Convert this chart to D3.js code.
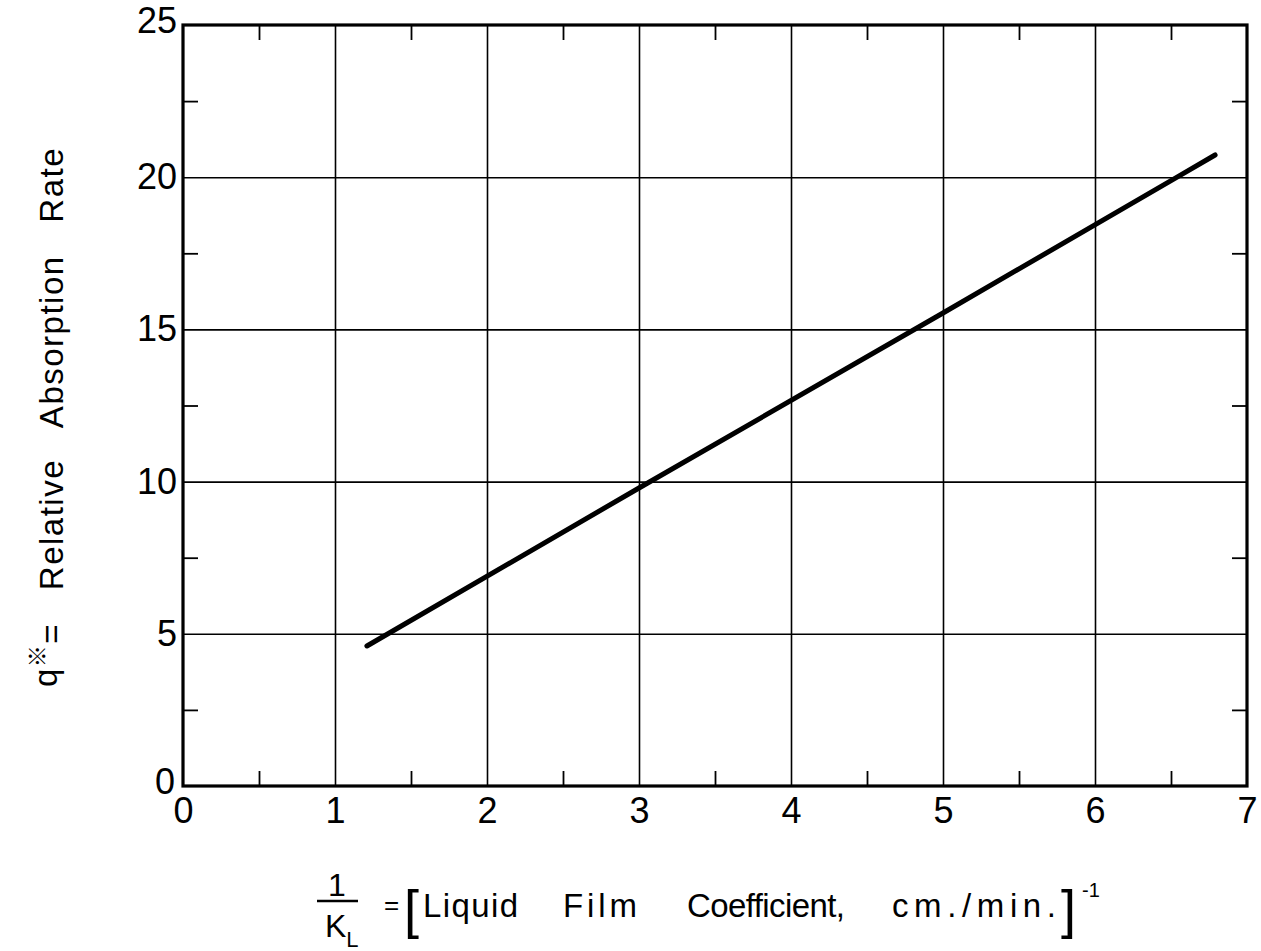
<!DOCTYPE html>
<html>
<head>
<meta charset="utf-8">
<script src="https://cdn.jsdelivr.net/npm/d3@7"></script>
<style>
  body { margin: 0; background: #fff; }
  text { font-family: "Liberation Sans", Arial, sans-serif; fill: #000; }
</style>
</head>
<body>
<svg id="chart" width="1261" height="951"></svg>
<script>
// Axis values
const xTicks = [0, 1, 2, 3, 4, 5, 6, 7];
const yTicks = [0, 5, 10, 15, 20, 25];
const xMinorTicks = [0.5, 1.5, 2.5, 3.5, 4.5, 5.5, 6.5];
const yMinorTicks = [2.5, 7.5, 12.5, 17.5, 22.5];

// Absorption rate against reciprocal liquid film coefficient
const invKL = [1.21, 3.0, 5.0, 6.54, 6.79];
const qStar = [4.6, 9.79, 15.54, 20.0, 20.73];

// Words of the x-axis caption
const captionWords = ["Liquid", "Film", "Coefficient,", "cm./min."];

const svg = d3.select("#chart");
const plot = { left: 183, right: 1247, top: 25, bottom: 786 };

const x = d3.scaleLinear().domain([0, 7]).range([plot.left, plot.right]);
const y = d3.scaleLinear().domain([0, 25]).range([plot.bottom, plot.top]);
const H = plot.bottom - plot.top;
const W = plot.right - plot.left;

// Grid lines at the whole-number ticks
svg.append("g")
  .attr("transform", `translate(0,${plot.bottom})`)
  .call(d3.axisBottom(x).tickValues(xTicks.slice(1, -1)).tickSize(-H).tickFormat(""))
  .call(g => g.select(".domain").remove())
  .selectAll("line").attr("stroke", "#000").attr("stroke-width", 1.6);

svg.append("g")
  .attr("transform", `translate(${plot.left},0)`)
  .call(d3.axisLeft(y).tickValues(yTicks.slice(1, -1)).tickSize(-W).tickFormat(""))
  .call(g => g.select(".domain").remove())
  .selectAll("line").attr("stroke", "#000").attr("stroke-width", 1.6);

// Half-unit ticks pointing inward on all four sides
const minorLen = 15;
const minor = (axisGen, tx, ty) => svg.append("g")
  .attr("transform", `translate(${tx},${ty})`)
  .call(axisGen.tickSize(-minorLen).tickFormat(""))
  .call(g => g.select(".domain").remove())
  .selectAll("line").attr("stroke", "#000").attr("stroke-width", 1.8);
minor(d3.axisBottom(x).tickValues(xMinorTicks), 0, plot.bottom);
minor(d3.axisTop(x).tickValues(xMinorTicks), 0, plot.top);
minor(d3.axisLeft(y).tickValues(yMinorTicks), plot.left, 0);
minor(d3.axisRight(y).tickValues(yMinorTicks), plot.right, 0);

// Frame
svg.append("rect")
  .attr("x", plot.left).attr("y", plot.top)
  .attr("width", W).attr("height", H)
  .attr("fill", "none").attr("stroke", "#000").attr("stroke-width", 3.2);

// Tick labels
const xLab = svg.append("g")
  .attr("transform", `translate(0,${plot.bottom})`)
  .call(d3.axisBottom(x).tickValues(xTicks).tickSize(0).tickPadding(11).tickFormat(d3.format("d")));
xLab.select(".domain").remove();
xLab.selectAll("text").style("font-size", "36px").style("font-family", "Liberation Sans, Arial, sans-serif");

const yLab = svg.append("g")
  .attr("transform", `translate(${plot.left},0)`)
  .call(d3.axisLeft(y).tickValues(yTicks).tickSize(0).tickPadding(6).tickFormat(d3.format("d")));
yLab.select(".domain").remove();
yLab.selectAll("text").style("font-size", "36px").style("font-family", "Liberation Sans, Arial, sans-serif");
yLab.selectAll(".tick").filter(d => d === 0).select("text").attr("x", -8).attr("dy", "0.2em");
yLab.selectAll(".tick").filter(d => d === 25).select("text").attr("dy", "0.2em");

// Fitted line
const pts = invKL.map((v, i) => [v, qStar[i]]);
svg.append("path")
  .datum(pts)
  .attr("d", d3.line().x(d => x(d[0])).y(d => y(d[1])))
  .attr("fill", "none").attr("stroke", "#000")
  .attr("stroke-width", 5).attr("stroke-linecap", "round");

// Y axis title
const yTitle = svg.append("text")
  .attr("transform", "translate(57,417) rotate(-90)")
  .attr("text-anchor", "middle")
  .style("font-size", "33px")
  .style("letter-spacing", "1.5px")
  .style("word-spacing", "22px");
yTitle.append("tspan").text("q");
yTitle.append("tspan").attr("dy", "-0.55em").style("font-size", "22px").style("font-family", "Noto Sans CJK JP").text("※");
yTitle.append("tspan").attr("dy", "0.55em").text("= Relative Absorption Rate");

// X axis title: fraction 1/K_L
const xt = svg.append("g");
xt.append("text").attr("x", 337).attr("y", 896).attr("text-anchor", "middle")
  .style("font-size", "32px").text("1");
xt.append("line").attr("x1", 317).attr("x2", 358).attr("y1", 901).attr("y2", 901)
  .attr("stroke", "#000").attr("stroke-width", 2.4);
const kl = xt.append("text").attr("x", 325).attr("y", 937).style("font-size", "32px");
kl.append("tspan").text("K");
kl.append("tspan").attr("dy", 10).style("font-size", "22px").text("L");

xt.append("text").attr("x", 384).attr("y", 914).style("font-size", "26px").text("=");
xt.append("text").attr("x", 404).attr("y", 928).style("font-size", "54px").style("font-weight", "300").text("[");

// Caption words, each set to its own span
const wordX = [423, 563, 687, 892];
const wordW = [95, 74, 158, 164];
xt.selectAll("text.word")
  .data(captionWords)
  .join("text")
  .attr("class", "word")
  .attr("x", (d, i) => wordX[i]).attr("y", 917)
  .attr("textLength", (d, i) => wordW[i]).attr("lengthAdjust", "spacing")
  .style("font-size", "33px")
  .text(d => d);

xt.append("text").attr("x", 1061).attr("y", 928).style("font-size", "54px").text("]");
xt.append("text").attr("x", 1082).attr("y", 897).style("font-size", "20px").text("-1");
</script>
</body>
</html>
